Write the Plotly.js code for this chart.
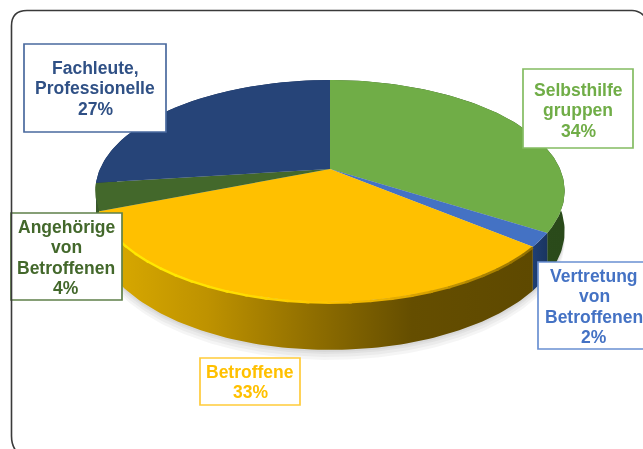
<!DOCTYPE html>
<html><head><meta charset="utf-8">
<script src="https://cdn.plot.ly/plotly-3.0.1.min.js"></script>
<style>html,body{margin:0;padding:0;background:#fff;overflow:hidden}#c{width:643px;height:449px;filter:blur(0.35px)}</style>
</head><body><div id="c"></div>
<script>
// Data, clockwise from 12 o'clock
var categories = ["Selbsthilfe gruppen","Vertretung von Betroffenen","Betroffene","Angehörige von Betroffenen","Fachleute, Professionelle"];
var shares = [34, 2, 33, 4, 27];
var labelLines = [["Selbsthilfe","gruppen"],["Vertretung","von","Betroffenen"],["Betroffene"],["Angehörige","von","Betroffenen"],["Fachleute,","Professionelle"]];
var topColors = ["#70AD47","#4472C4","#FFC000","#43682B","#264478"];
var textColors = ["#70AD47","#4472C4","#FFC000","#43682B","#2F5085"];
var borderColors = ["#84BC62","#6A90D2","#FFCB3A","#5F8049","#4A6A9E"];
var sideScales = [
  [[0,"#2F5020"],[1,"#2A4A1A"]],
  [[0,"#1F3F74"],[1,"#1A3560"]],
  [[0,"#DCAC00"],[0.25,"#BE9200"],[0.5,"#8E6D00"],[0.72,"#654E00"],[1,"#5E4900"]],
  [[0,"#3A5A25"],[1,"#3A5A25"]],
  [[0,"#1B3158"],[1,"#1B3158"]]
];
// rim colours along the front slice, left to right
var bevelStops = [[255,214,0],[255,232,0],[255,232,0],[255,220,0],[255,196,0],[226,170,0],[176,134,0],[150,114,0]];
var shadowSteps = [10, 7, 4, 2];

// View geometry: perspective projection of the pie disc into the pixel-sized axes
var view = {cx:330, cy:169, rx:230, ry:106.6, tilt:0.198, depth:38.5};
function project(pct, drop){
  var t = pct/100*2*Math.PI, X = Math.sin(t), Z = Math.cos(t), s = 1/(1+view.tilt*Z);
  return [view.cx + view.rx*X*s, view.cy - view.ry*Z*s + (drop ? view.depth*s : 0)];
}
function arc(a,b,drop,shift){
  var n = Math.max(4, Math.ceil((b-a)*3)), pts = [];
  for (var i=0;i<=n;i++){ var p = project(a+(b-a)*i/n, drop); pts.push([p[0], p[1]+(shift||0)]); }
  return pts;
}
function xy(pts){ return {x:pts.map(function(p){return p[0]}), y:pts.map(function(p){return p[1]})}; }
function poly(pts, extra){
  var d = xy(pts);
  return Object.assign({type:"scatter",mode:"lines",x:d.x.concat([d.x[0]]),y:d.y.concat([d.y[0]]),fill:"toself",line:{width:0},hoverinfo:"skip"}, extra);
}

var traces = [];
// soft shadow under the disc
shadowSteps.forEach(function(sh){
  traces.push(poly(arc(0,100,true,sh), {fillcolor:"rgba(0,0,0,0.04)"}));
});
// extruded sides
var starts = [], acc = 0;
shares.forEach(function(v){ starts.push(acc); acc += v; });
[4,0,3,1,2].forEach(function(i){
  var a = starts[i], b = a+shares[i];
  var pts = arc(a,b,false).concat(arc(a,b,true).reverse());
  traces.push(poly(pts, {fillcolor:sideScales[i][0][1], fillgradient:{type:"horizontal",colorscale:sideScales[i]}}));
});
// top faces
shares.forEach(function(v,i){
  var a = starts[i], b = a+v;
  traces.push(poly([[view.cx,view.cy]].concat(arc(a,b,false)), {fillcolor:topColors[i], name:categories[i]}));
});
// rim highlight on the front slice
var yi = 2, ya = starts[yi], yb = ya+shares[yi], nSeg = 28;
for (var k=0;k<nSeg;k++){
  var f0 = yb-(yb-ya)*k/nSeg, f1 = yb-(yb-ya)*(k+1.15)/nSeg;
  var pos = k/(nSeg-1)*(bevelStops.length-1), j = Math.min(Math.floor(pos), bevelStops.length-2), u = pos-j;
  var col = "rgb("+[0,1,2].map(function(c){return Math.round(bevelStops[j][c]*(1-u)+bevelStops[j+1][c]*u)}).join(",")+")";
  var d = xy(arc(Math.max(f1,ya),f0,false,0.8));
  traces.push({type:"scatter",mode:"lines",x:d.x,y:d.y,line:{color:col,width:2.4},hoverinfo:"skip"});
}

// label boxes and line positions
var boxLeft = [523,538,200,11,24], boxRight = [633,660,300,122,166], boxTop = [69,262,358,213,44], boxBottom = [148,349,405,300,132];
var textX = [578,594,250,66,95];
var firstLineY = [90,276,372,227,68], linePitch = 20.4;
var shapes = [];
var annotations = [];
shares.forEach(function(v,i){
  shapes.push({type:"rect",xref:"x",yref:"y",layer:"above",x0:boxLeft[i],x1:boxRight[i],y0:boxTop[i],y1:boxBottom[i],
    fillcolor:"#FFFFFF",line:{color:borderColors[i],width:1.7}});
  labelLines[i].concat([v+"%"]).forEach(function(t,n){
    annotations.push({xref:"x",yref:"y",x:textX[i],y:firstLineY[i]+n*linePitch,showarrow:false,text:t,xanchor:"center",yanchor:"middle",
      font:{family:"Liberation Sans, Arial, sans-serif",size:17.5,color:textColors[i],weight:700}});
  });
});
shapes.push({type:"path",xref:"x",yref:"y",layer:"above",
  path:"M 18 453 Q 11.5 447 11.5 436 L 11.5 26 Q 11.5 10.5 27 10.5 L 632 10.5 Q 640 10.5 646 18",
  line:{color:"#3A3A3A",width:1.6}});

var layout = {
  width:643,height:449,margin:{l:0,r:0,t:0,b:0},paper_bgcolor:"#FFFFFF",plot_bgcolor:"#FFFFFF",showlegend:false,
  xaxis:{range:[0,643],visible:false,fixedrange:true},
  yaxis:{range:[449,0],visible:false,fixedrange:true},
  annotations:annotations,
  shapes:shapes
};
Plotly.newPlot("c",traces,layout,{displayModeBar:false,staticPlot:true});
</script></body></html>
